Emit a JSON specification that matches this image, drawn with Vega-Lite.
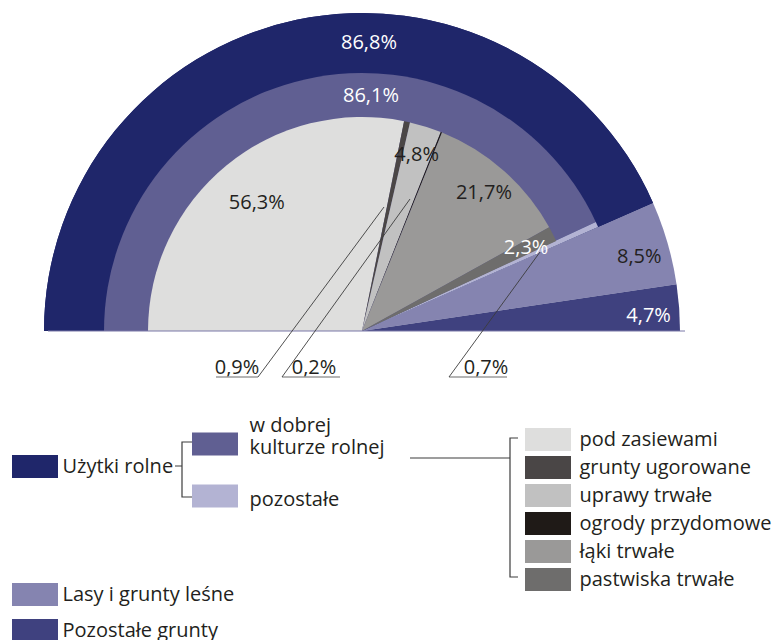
{
  "$schema": "https://vega.github.io/schema/vega-lite/v6.json",
  "width": 724,
  "height": 662,
  "autosize": {"type": "none"},
  "padding": {"left": 0, "top": 0, "right": 52, "bottom": 0},
  "background": "white",
  "config": {
    "view": {"stroke": null},
    "font": "Open Sans",
    "text": {"font": "Open Sans", "fontSize": 20},
    "legend": {
      "symbolType": "M-2,-1H2V1H-2Z",
      "symbolSize": 529,
      "symbolStrokeWidth": 0,
      "symbolOpacity": 1,
      "labelFont": "Open Sans",
      "labelFontSize": 20,
      "labelColor": "#231f20",
      "labelLimit": 400,
      "labelOffset": 16,
      "padding": 0,
      "title": null
    }
  },
  "datasets": {
    "outer": [
      {"name": "Użytki rolne", "v": 86.8, "o": 1},
      {"name": "Lasy i grunty leśne", "v": 8.5, "o": 2},
      {"name": "Pozostałe grunty", "v": 4.7, "o": 3}
    ],
    "middle": [
      {"name": "w dobrej kulturze rolnej", "v": 86.1, "o": 1},
      {"name": "pozostałe", "v": 0.7, "o": 2}
    ],
    "inner": [
      {"name": "pod zasiewami", "v": 56.3, "o": 1},
      {"name": "grunty ugorowane", "v": 0.9, "o": 2},
      {"name": "uprawy trwałe", "v": 4.8, "o": 3},
      {"name": "ogrody przydomowe", "v": 0.2, "o": 4},
      {"name": "łąki trwałe", "v": 21.7, "o": 5},
      {"name": "pastwiska trwałe", "v": 2.3, "o": 6}
    ]
  },
  "resolve": {"scale": {"color": "independent"}, "legend": {"color": "independent"}},
  "layer": [
    {
      "data": {"name": "outer"},
      "mark": {"type": "arc", "radius": 318, "radius2": 0},
      "encoding": {
        "theta": {"field": "v", "type": "quantitative", "stack": true, "scale": {"domain": [0, 100], "range": [-1.5707963, 1.5707963]}},
        "order": {"field": "o", "type": "quantitative"},
        "color": {
          "field": "name", "type": "nominal",
          "scale": {"domain": ["Użytki rolne", "Lasy i grunty leśne", "Pozostałe grunty"], "range": ["#1f266a", "#8584b0", "#3f417f"]},
          "legend": {"values": ["Lasy i grunty leśne", "Pozostałe grunty"], "orient": "none", "legendX": 23.5, "legendY": 583, "rowPadding": 13}
        }
      }
    },
    {
      "data": {"name": "outer"},
      "transform": [{"filter": "datum.name == 'Użytki rolne'"}],
      "mark": {"type": "arc", "radius": 318, "radius2": 0},
      "encoding": {
        "theta": {"field": "v", "type": "quantitative", "stack": true, "scale": {"domain": [0, 100], "range": [-1.5707963, 1.5707963]}},
        "order": {"field": "o", "type": "quantitative"},
        "color": {
          "field": "name", "type": "nominal",
          "scale": {"domain": ["Użytki rolne"], "range": ["#1f266a"]},
          "legend": {"orient": "none", "legendX": 23.5, "legendY": 455}
        }
      }
    },
    {
      "data": {"name": "middle"},
      "mark": {"type": "arc", "radius": 258, "radius2": 0},
      "encoding": {
        "theta": {"field": "v", "type": "quantitative", "stack": true, "scale": {"domain": [0, 100], "range": [-1.5707963, 1.5707963]}},
        "order": {"field": "o", "type": "quantitative"},
        "color": {
          "field": "name", "type": "nominal",
          "scale": {"domain": ["w dobrej kulturze rolnej", "pozostałe"], "range": ["#605f92", "#b3b3d3"]},
          "legend": {"orient": "none", "legendX": 203.5, "legendY": 414, "rowPadding": 8, "labelOffset": 23,
            "symbolType": "M-2,0.6H2V2.6H-2Z",
            "labelExpr": "datum.label == 'w dobrej kulturze rolnej' ? ['w dobrej', 'kulturze rolnej'] : ['', datum.label]"}
        }
      }
    },
    {
      "data": {"name": "inner"},
      "mark": {"type": "arc", "radius": 214, "radius2": 0},
      "encoding": {
        "theta": {"field": "v", "type": "quantitative", "stack": true, "scale": {"domain": [0, 100], "range": [-1.5707963, 1.5707963]}},
        "order": {"field": "o", "type": "quantitative"},
        "color": {
          "field": "name", "type": "nominal",
          "scale": {
            "domain": ["pod zasiewami", "grunty ugorowane", "uprawy trwałe", "ogrody przydomowe", "łąki trwałe", "pastwiska trwałe"],
            "range": ["#dededd", "#4a4646", "#c1c1c1", "#1f1a17", "#9a9998", "#6e6d6c"]
          },
          "legend": {"orient": "none", "legendX": 536.5, "legendY": 428, "rowPadding": 5, "labelOffset": 20}
        }
      }
    },
    {
      "data": {"values": [{"k": "baseline"}]},
      "mark": {"type": "point", "shape": "M-314,0H323", "size": 4, "filled": false, "stroke": "#7a79a8", "strokeWidth": 1, "opacity": 1},
      "encoding": {}
    },
    {
      "data": {"name": "inner"},
      "transform": [{"calculate": "replace(format(datum.v, '.1f'), '.', ',') + '%'", "as": "lbl"}],
      "mark": {"type": "text", "radius": 184, "fontSize": 20, "align": "center", "baseline": "middle"},
      "encoding": {
        "theta": {"field": "v", "type": "quantitative", "stack": true, "scale": {"domain": [0, 100], "range": [-1.5707963, 1.5707963]}},
        "order": {"field": "o", "type": "quantitative"},
        "detail": {"field": "name"},
        "text": {"condition": {"test": "datum.v < 1 || datum.o == 1", "value": ""}, "field": "lbl"},
        "color": {"condition": {"test": "datum.name == 'pastwiska trwałe'", "value": "#ffffff"}, "value": "#231f20"}
      }
    },
    {
      "data": {"name": "inner"},
      "transform": [{"calculate": "replace(format(datum.v, '.1f'), '.', ',') + '%'", "as": "lbl"}],
      "mark": {"type": "text", "radius": 166, "fontSize": 20, "align": "center", "baseline": "middle", "fill": "#231f20"},
      "encoding": {
        "theta": {"field": "v", "type": "quantitative", "stack": true, "scale": {"domain": [0, 100], "range": [-1.5707963, 1.5707963]}},
        "order": {"field": "o", "type": "quantitative"},
        "detail": {"field": "name"},
        "text": {"condition": {"test": "datum.o != 1", "value": ""}, "field": "lbl"}
      }
    },
    {
      "data": {"name": "outer"},
      "transform": [{"calculate": "replace(format(datum.v, '.1f'), '.', ',') + '%'", "as": "lbl"}],
      "mark": {"type": "text", "radius": 287, "thetaOffset": 0.02, "fontSize": 20, "align": "center", "baseline": "middle"},
      "encoding": {
        "theta": {"field": "v", "type": "quantitative", "stack": true, "scale": {"domain": [0, 100], "range": [-1.5707963, 1.5707963]}},
        "order": {"field": "o", "type": "quantitative"},
        "detail": {"field": "name"},
        "text": {"condition": {"test": "datum.o == 1", "value": ""}, "field": "lbl"},
        "color": {"condition": {"test": "datum.name == 'Pozostałe grunty'", "value": "#ffffff"}, "value": "#231f20"}
      }
    },
    {
      "data": {"name": "outer"},
      "transform": [{"filter": "datum.o == 1"}, {"calculate": "replace(format(datum.v, '.1f'), '.', ',') + '%'", "as": "lbl"}],
      "mark": {"type": "text", "fontSize": 20, "align": "center", "baseline": "middle", "dx": 7, "dy": -288, "fill": "#ffffff"},
      "encoding": {"text": {"field": "lbl"}}
    },
    {
      "data": {"name": "middle"},
      "transform": [{"filter": "datum.o == 1"}, {"calculate": "replace(format(datum.v, '.1f'), '.', ',') + '%'", "as": "lbl"}],
      "mark": {"type": "text", "fontSize": 20, "align": "center", "baseline": "middle", "dx": 9, "dy": -235, "fill": "#ffffff"},
      "encoding": {"text": {"field": "lbl"}}
    },
    {
      "data": {"name": "inner"},
      "transform": [{"filter": "datum.name == 'grunty ugorowane'"}, {"calculate": "replace(format(datum.v, '.1f'), '.', ',') + '%'", "as": "lbl"}],
      "mark": {"type": "text", "fontSize": 20, "align": "center", "baseline": "middle", "dx": -125, "dy": 37, "fill": "#231f20"},
      "encoding": {"text": {"field": "lbl"}}
    },
    {
      "data": {"name": "inner"},
      "transform": [{"filter": "datum.name == 'ogrody przydomowe'"}, {"calculate": "replace(format(datum.v, '.1f'), '.', ',') + '%'", "as": "lbl"}],
      "mark": {"type": "text", "fontSize": 20, "align": "center", "baseline": "middle", "dx": -48, "dy": 37, "fill": "#231f20"},
      "encoding": {"text": {"field": "lbl"}}
    },
    {
      "data": {"name": "middle"},
      "transform": [{"filter": "datum.name == 'pozostałe'"}, {"calculate": "replace(format(datum.v, '.1f'), '.', ',') + '%'", "as": "lbl"}],
      "mark": {"type": "text", "fontSize": 20, "align": "center", "baseline": "middle", "dx": 124, "dy": 37, "fill": "#231f20"},
      "encoding": {"text": {"field": "lbl"}}
    },
    {
      "data": {"values": [{"k": "underlines"}]},
      "mark": {"type": "point", "shape": "M-146,46H-104M-80,46H-22M87,46H145", "size": 4, "filled": false, "stroke": "#9d9d9d", "strokeWidth": 1.6, "opacity": 1},
      "encoding": {}
    },
    {
      "data": {"values": [{"k": "leaders"}]},
      "mark": {"type": "point", "shape": "M-104,46L22,-124M-80,46L48,-132M87,46L178,-79", "size": 4, "filled": false, "stroke": "#3c3c3c", "strokeWidth": 0.9, "opacity": 1},
      "encoding": {}
    },
    {
      "data": {"values": [{"k": "brackets"}]},
      "mark": {"type": "point", "shape": "M-187,135H-180M-170,111H-180V166H-170M48,127H148M156,107H148V246H156", "size": 4, "filled": false, "stroke": "#3c3c3c", "strokeWidth": 1.2, "opacity": 1},
      "encoding": {}
    }
  ]
}
